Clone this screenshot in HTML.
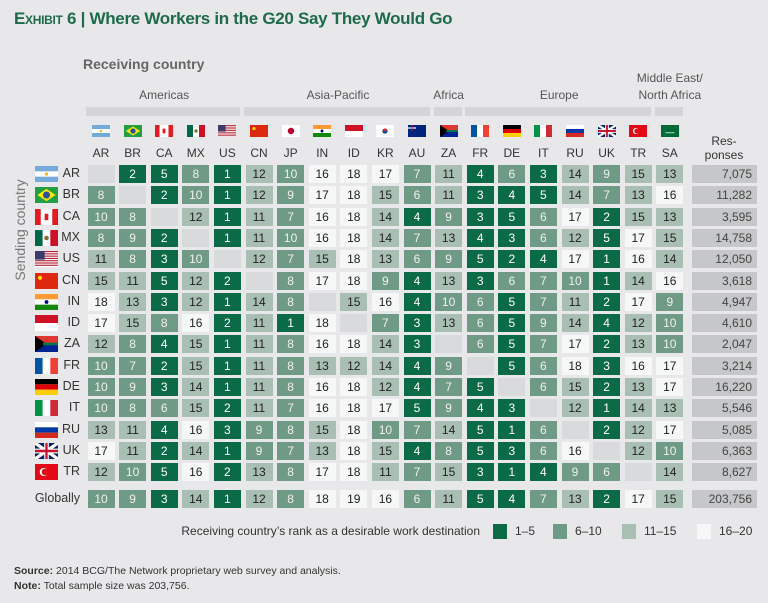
<!DOCTYPE html>
<html><head><meta charset="utf-8">
<style>
body{margin:0;width:768px;height:603px;background:#e8e8ea;font-family:"Liberation Sans",sans-serif;position:relative;overflow:hidden}
.a{position:absolute;white-space:nowrap}
.cell{position:absolute;text-align:center;font-size:12px;line-height:18px;height:18px;width:27px}
</style></head><body>
<div class="a" style="left:14px;top:9px;font-size:17px;font-weight:bold;color:#1d6b4a;letter-spacing:-0.3px"><span style="font-variant:small-caps">Exhibit 6</span> | Where Workers in the G20 Say They Would Go</div>
<div class="a" style="left:83px;top:56px;font-size:14px;font-weight:bold;color:#666">Receiving country</div>
<div class="a" style="left:-40px;top:222px;width:120px;text-align:center;transform:rotate(-90deg);font-size:14px;color:#777">Sending country</div>
<div id="grid"></div>
<div class="a" style="left:160px;top:524px;width:320px;text-align:right;font-size:12px;color:#333">Receiving country’s rank as a desirable work destination</div>
<div id="legend"></div>
<div class="a" style="left:14px;top:564px;font-size:10.5px;color:#333;line-height:15px"><b>Source:</b> 2014 BCG/The Network proprietary web survey and analysis.<br><b>Note:</b> Total sample size was 203,756.</div>
<script>
const receivers=["AR","BR","CA","MX","US","CN","JP","IN","ID","KR","AU","ZA","FR","DE","IT","RU","UK","TR","SA"];
const senders=["AR","BR","CA","MX","US","CN","IN","ID","ZA","FR","DE","IT","RU","UK","TR"];
const ranks=[
[0,2,5,8,1,12,10,16,18,17,7,11,4,6,3,14,9,15,13],
[8,0,2,10,1,12,9,17,18,15,6,11,3,4,5,14,7,13,16],
[10,8,0,12,1,11,7,16,18,14,4,9,3,5,6,17,2,15,13],
[8,9,2,0,1,11,10,16,18,14,7,13,4,3,6,12,5,17,15],
[11,8,3,10,0,12,7,15,18,13,6,9,5,2,4,17,1,16,14],
[15,11,5,12,2,0,8,17,18,9,4,13,3,6,7,10,1,14,16],
[18,13,3,12,1,14,8,0,15,16,4,10,6,5,7,11,2,17,9],
[17,15,8,16,2,11,1,18,0,7,3,13,6,5,9,14,4,12,10],
[12,8,4,15,1,11,8,16,18,14,3,0,6,5,7,17,2,13,10],
[10,7,2,15,1,11,8,13,12,14,4,9,0,5,6,18,3,16,17],
[10,9,3,14,1,11,8,16,18,12,4,7,5,0,6,15,2,13,17],
[10,8,6,15,2,11,7,16,18,17,5,9,4,3,0,12,1,14,13],
[13,11,4,16,3,9,8,15,18,10,7,14,5,1,6,0,2,12,17],
[17,11,2,14,1,9,7,13,18,15,4,8,5,3,6,16,0,12,10],
[12,10,5,16,2,13,8,17,18,11,7,15,3,1,4,9,6,0,14]];
const responses=["7,075","11,282","3,595","14,758","12,050","3,618","4,947","4,610","2,047","3,214","16,220","5,546","5,085","6,363","8,627"];
const globalRanks=[10,9,3,14,1,12,8,18,19,16,6,11,5,4,7,13,2,17,15];
const globalResponses="203,756";
const groups=["Americas","Asia-Pacific","Africa","Europe","Middle East/<br>North Africa"];
const groupSpans=[[0,4],[5,10],[11,11],[12,17],[18,18]];
const legendLabels=["1–5","6–10","11–15","16–20"];

const colX=i=>101+31.6*i, rowY=r=>174+21.3*r, globalY=499;
function color(v){if(v===0)return["#d9dadc","#333"];if(v<=5)return["#0b6b46","#fff"];if(v<=10)return["#6f9a85","#f0f0f0"];if(v<=15)return["#a9bfb3","#222"];return["#f6f7f7","#222"];}
function flag(c,w,h){
 const r=(x,y,ww,hh,f)=>`<rect x="${x}" y="${y}" width="${ww}" height="${hh}" fill="${f}"/>`;
 let s="";
 switch(c){
 case"AR":s=r(0,0,w,h,"#fff")+r(0,0,w,h/3,"#75aadb")+r(0,2*h/3,w,h/3,"#75aadb")+`<circle cx="${w/2}" cy="${h/2}" r="${h/10}" fill="#f6b40e"/>`;break;
 case"BR":s=r(0,0,w,h,"#229e45")+`<polygon points="${w/2},${h*.12} ${w*.9},${h/2} ${w/2},${h*.88} ${w*.1},${h/2}" fill="#f8e509"/><circle cx="${w/2}" cy="${h/2}" r="${h*.22}" fill="#2b4f9e"/>`;break;
 case"CA":s=r(0,0,w,h,"#fff")+r(0,0,w/4,h,"#e31b23")+r(3*w/4,0,w/4,h,"#e31b23")+`<rect x="${w*.42}" y="${h*.3}" width="${w*.16}" height="${h*.4}" fill="#e31b23"/>`;break;
 case"MX":s=r(0,0,w/3,h,"#006847")+r(w/3,0,w/3,h,"#fff")+r(2*w/3,0,w/3,h,"#ce1126")+`<circle cx="${w/2}" cy="${h/2}" r="${h/7}" fill="#8a6d3b"/>`;break;
 case"US":for(let i=0;i<7;i++)s+=r(0,i*h/7,w,h/14,"#b22234");s=r(0,0,w,h,"#fff")+s+r(0,0,w*.42,h*.54,"#3c3b6e");break;
 case"CN":s=r(0,0,w,h,"#de2910")+`<circle cx="${w*.22}" cy="${h*.3}" r="${h*.13}" fill="#ffde00"/>`;break;
 case"JP":s=r(0,0,w,h,"#fff")+`<circle cx="${w/2}" cy="${h/2}" r="${h*.27}" fill="#bc002d"/>`;break;
 case"IN":s=r(0,0,w,h/3,"#f93")+r(0,h/3,w,h/3,"#fff")+r(0,2*h/3,w,h/3,"#138808")+`<circle cx="${w/2}" cy="${h/2}" r="${h*.12}" fill="#000080"/>`;break;
 case"ID":s=r(0,0,w,h/2,"#ce1126")+r(0,h/2,w,h/2,"#fff");break;
 case"KR":s=r(0,0,w,h,"#fff")+`<circle cx="${w/2}" cy="${h/2}" r="${h*.22}" fill="#cd2e3a"/><path d="M${w/2-h*.22},${h/2} a${h*.22},${h*.22} 0 0 0 ${h*.44},0z" fill="#0047a0"/>`;break;
 case"AU":s=r(0,0,w,h,"#00247d")+r(0,h*.2,w*.45,h*.1,"#fff")+r(w*.2,0,w*.05,h*.5,"#cf142b");break;
 case"ZA":s=r(0,0,w,h/2,"#de3831")+r(0,h/2,w,h/2,"#002395")+`<polygon points="0,0 ${w*.5},${h/2} 0,${h}" fill="#000"/>`+r(w*.35,h*.42,w*.65,h*.16,"#007a4d");break;
 case"FR":s=r(0,0,w/3,h,"#0055a4")+r(w/3,0,w/3,h,"#fff")+r(2*w/3,0,w/3,h,"#ef4135");break;
 case"DE":s=r(0,0,w,h/3,"#000")+r(0,h/3,w,h/3,"#dd0000")+r(0,2*h/3,w,h/3,"#ffce00");break;
 case"IT":s=r(0,0,w/3,h,"#009246")+r(w/3,0,w/3,h,"#fff")+r(2*w/3,0,w/3,h,"#ce2b37");break;
 case"RU":s=r(0,0,w,h/3,"#fff")+r(0,h/3,w,h/3,"#0039a6")+r(0,2*h/3,w,h/3,"#d52b1e");break;
 case"UK":s=r(0,0,w,h,"#012169")+`<path d="M0,0L${w},${h}M${w},0L0,${h}" stroke="#fff" stroke-width="${h*.2}"/>`+r(w*.4,0,w*.2,h,"#fff")+r(0,h*.35,w,h*.3,"#fff")+r(w*.45,0,w*.1,h,"#c8102e")+r(0,h*.42,w,h*.16,"#c8102e");break;
 case"TR":s=r(0,0,w,h,"#e30a17")+`<circle cx="${w*.38}" cy="${h/2}" r="${h*.25}" fill="#fff"/><circle cx="${w*.43}" cy="${h/2}" r="${h*.2}" fill="#e30a17"/>`;break;
 case"SA":s=r(0,0,w,h,"#006c35")+r(w*.25,h*.62,w*.5,h*.06,"#fff");break;
 }
 return `<svg width="${w}" height="${h}" viewBox="0 0 ${w} ${h}">${s}</svg>`;
}
const g=document.getElementById('grid');
function add(html,style,name,cls){const d=document.createElement('div');d.className=cls||'a';d.style.cssText=style;d.innerHTML=html;


g.appendChild(d);return d;}
groups.forEach((t,i)=>{const [a,b]=groupSpans[i];const x0=colX(a)-15,x1=colX(b)+15,cx=(x0+x1)/2;
 add('',`left:${x0}px;top:107px;width:${x1-x0-2}px;height:9px;background:#d4d5d7`,'group-bar-'+i);
 add(t,`left:${cx-60}px;width:120px;text-align:center;font-size:12px;color:#555;line-height:17px;top:${i==4?70:87}px`,'group-label-'+i);});
receivers.forEach((c,i)=>{
 add(flag(c,18,12),`left:${colX(i)-9}px;top:124px;height:12px`,'col-flag-'+c.toLowerCase());
 add(c,`left:${colX(i)-15}px;top:146px;width:30px;font-size:12px;color:#333;text-align:center`,'col-label-'+c.toLowerCase());});
add('Res-<br>ponses','left:694px;top:134px;width:60px;text-align:center;font-size:12px;line-height:14px;color:#333','responses-header');
function row(vals,y,resp,key){
 vals.forEach((v,i)=>{const [bg,fg]=color(v);
  add(v?v:'',`left:${colX(i)-13.5}px;top:${y-9}px;background:${bg};color:${fg}`,'cell-'+key+'-'+receivers[i].toLowerCase(),'cell');});
 add(resp,`left:692px;top:${y-9}px;width:60px;height:18px;line-height:18px;background:#c6c7c9;color:#444;font-size:12px;text-align:right;padding-right:5px`,'responses-'+key);
}
senders.forEach((c,r)=>{const y=rowY(r);
 add(flag(c,23,16),`left:35px;top:${y-8}px;height:16px`,'row-flag-'+c.toLowerCase());
 add(c,`left:58px;top:${y-8}px;width:22px;text-align:right;font-size:12.5px;color:#333`,'row-label-'+c.toLowerCase());
 row(ranks[r],y,responses[r],c.toLowerCase());});
add('Globally',`left:20px;top:${globalY-8}px;width:60px;text-align:right;font-size:12.5px;color:#333`,'row-label-globally');
row(globalRanks,globalY,globalResponses,'global');
const lg=document.getElementById('legend');
const lx=[493,553,622,697],lc=["#0b6b46","#6f9a85","#a9bfb3","#f6f7f7"];
legendLabels.forEach((t,i)=>{
 const b=document.createElement('div');b.className='a';b.style.cssText=`left:${lx[i]}px;top:524px;width:14px;height:15px;background:${lc[i]}`;
 
 lg.appendChild(b);
 const l=document.createElement('div');l.className='a';l.style.cssText=`left:${lx[i]+22}px;top:524px;font-size:12px;color:#333`;l.textContent=t;
 
 lg.appendChild(l);});
</script>
</body></html>
